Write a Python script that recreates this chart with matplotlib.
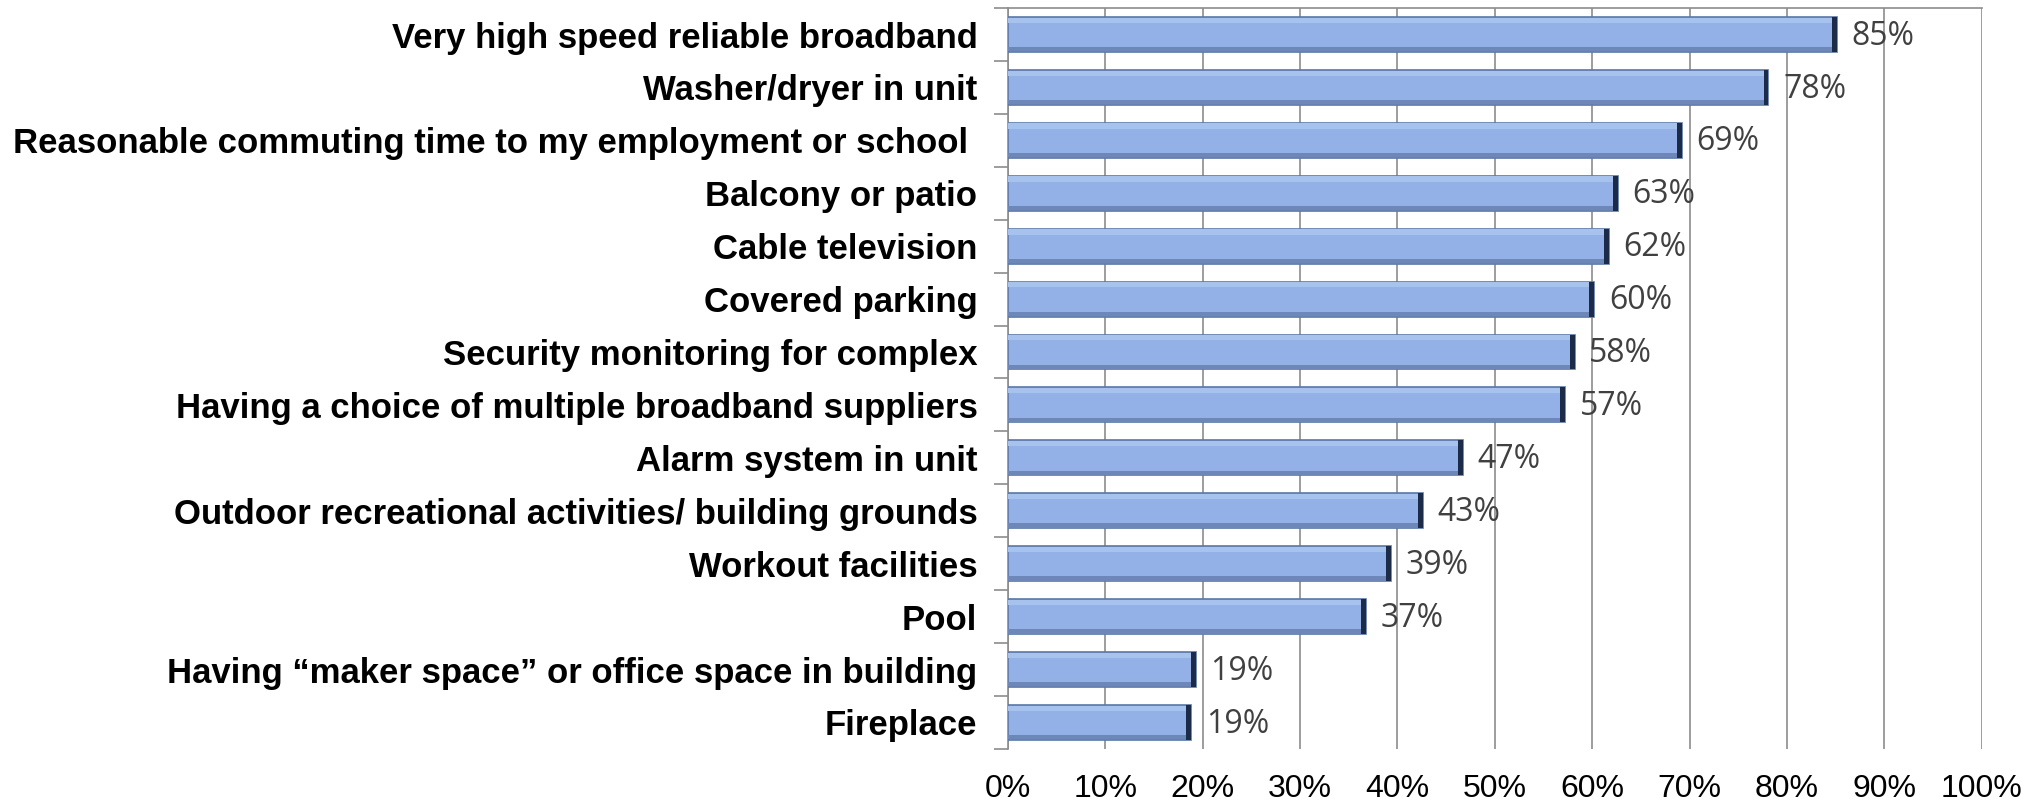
import matplotlib
matplotlib.use("Agg")
from matplotlib import pyplot as plt
import numpy as np

categories = [
    "Very high speed reliable broadband",
    "Washer/dryer in unit",
    "Reasonable commuting time to my employment or school ",
    "Balcony or patio",
    "Cable television",
    "Covered parking",
    "Security monitoring for complex",
    "Having a choice of multiple broadband suppliers",
    "Alarm system in unit",
    "Outdoor recreational activities/ building grounds",
    "Workout facilities",
    "Pool",
    "Having \u201cmaker space\u201d or office space in building",
    "Fireplace",
]
values = [85.1, 78.1, 69.2, 62.6, 61.7, 60.2, 58.2, 57.2, 46.7, 42.6, 39.3, 36.8, 19.3, 18.8]
xticks = list(range(0, 101, 10))

fig = plt.figure(figsize=(20.43, 8.07), dpi=100)
ax = fig.add_axes([0.4934, 0.072, 0.4766, 0.918])

y = np.arange(len(categories))
h = 0.66
v = np.array(values)

# main bar body
ax.barh(y, v, height=h, color="#93b1e6", edgecolor="#5b78a8", linewidth=1.2, zorder=3)
# bevel: light top strip and darker bottom strip
ax.barh(y - h / 2 + 0.06, v, height=0.1, color="#a8c2ee", linewidth=0, zorder=4)
ax.barh(y + h / 2 - 0.05, v, height=0.08, color="#6d88b8", linewidth=0, zorder=4)
# dark end cap
ax.barh(y, 0.5, left=v - 0.5, height=h, color="#1c2c48", linewidth=0, zorder=5)

for yi, val in zip(y, values):
    ax.text(val + 1.5, yi + 0.03, "{:.0f}%".format(val), va="center", ha="left",
            fontsize=23, color="#404040", family="Open Sans", zorder=6)

ax.set_xlim(0, 100)
ax.set_ylim(len(categories) - 0.5, -0.5)
ax.set_xticks(xticks)
ax.set_xticklabels(["{}%".format(t) for t in xticks], fontsize=23,
                   family="Liberation Sans")
ax.tick_params(axis="x", length=0, pad=18)

ax.set_yticks(y)
ax.set_yticklabels(categories, fontsize=25, fontweight="bold", family="Liberation Sans")
ax.set_yticks(np.arange(-0.5, len(categories), 1.0), minor=True)
ax.tick_params(axis="y", which="major", length=0, pad=22)
ax.tick_params(axis="y", which="minor", length=10, color="#8c8c8c", width=1.2)

ax.grid(axis="x", color="#8c8c8c", linewidth=1.2, zorder=0)
ax.set_axisbelow(True)
for side in ["bottom", "right"]:
    ax.spines[side].set_visible(False)
ax.spines["left"].set_color("#8c8c8c")
ax.spines["top"].set_color("#8c8c8c")
ax.spines["left"].set_linewidth(1.2)
ax.spines["top"].set_linewidth(1.2)

plt.savefig("out.png", dpi=100)
